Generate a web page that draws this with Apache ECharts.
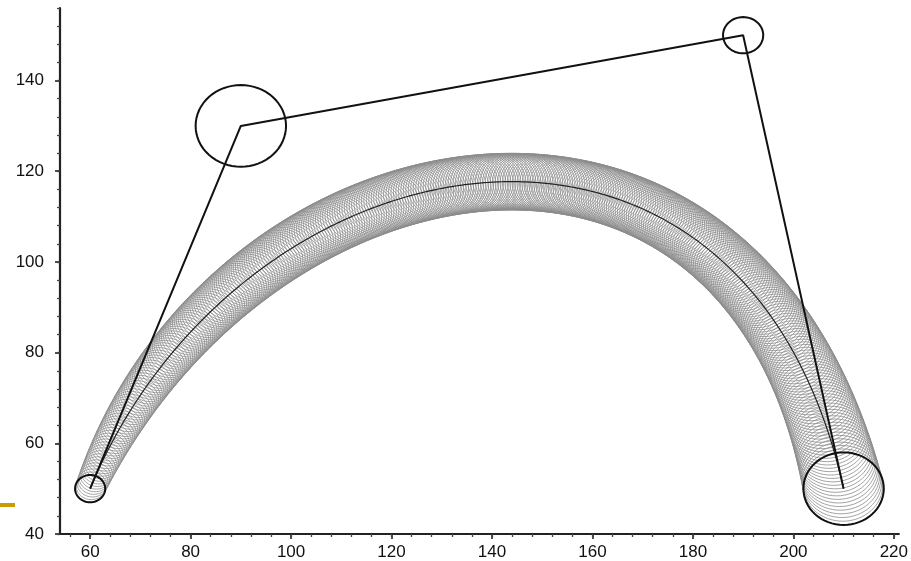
<!DOCTYPE html>
<html>
<head>
<meta charset="utf-8">
<style>
  html, body { margin: 0; padding: 0; background: #ffffff; }
  #chart { width: 911px; height: 561px; }
</style>
<script src="https://cdn.jsdelivr.net/npm/echarts@6/dist/echarts.min.js"></script>
</head>
<body>
<div id="chart"></div>
<script>
// Control disks of the Bezier curve
const ctrlX = [60, 90, 190, 210];
const ctrlY = [50, 130, 150, 50];
const ctrlR = [3, 9, 4, 8];

// Axis tick labels
const xTickLabels = [60, 80, 100, 120, 140, 160, 180, 200, 220];
const yTickLabels = [40, 60, 80, 100, 120, 140];
const xMinorTicks = [56, 60, 64, 68, 72, 76, 80, 84, 88, 92, 96, 100, 104, 108, 112, 116, 120, 124, 128, 132, 136, 140, 144, 148, 152, 156, 160, 164, 168, 172, 176, 180, 184, 188, 192, 196, 200, 204, 208, 212, 216, 220];
const yMinorTicks = [40, 44, 48, 52, 56, 60, 64, 68, 72, 76, 80, 84, 88, 92, 96, 100, 104, 108, 112, 116, 120, 124, 128, 132, 136, 140, 144, 148, 152, 156];

// number of disks drawn along the curve
const diskCount = 380;

function bez(p, t) {
  const u = 1 - t;
  return u * u * u * p[0] + 3 * u * u * t * p[1] + 3 * u * t * t * p[2] + t * t * t * p[3];
}

const tube = [];
const centerLine = [];
for (let i = 0; i < diskCount; i++) {
  const t = i / (diskCount - 1);
  const cx = bez(ctrlX, t), cy = bez(ctrlY, t), r = bez(ctrlR, t);
  tube.push([cx, cy, r]);
  centerLine.push([cx, cy]);
}
const ctrlDisks = ctrlX.map((x, i) => [x, ctrlY[i], ctrlR[i]]);
const ctrlPoly = ctrlX.map((x, i) => [x, ctrlY[i]]);

function circleRenderer(color, width) {
  return function (params, api) {
    const cx = api.value(0), cy = api.value(1), r = api.value(2);
    const pts = [];
    const n = 64;
    for (let k = 0; k < n; k++) {
      const a = (k / n) * Math.PI * 2;
      pts.push(api.coord([cx + r * Math.cos(a), cy + r * Math.sin(a)]));
    }
    return {
      type: 'polygon',
      shape: { points: pts },
      style: { fill: 'none', stroke: color, lineWidth: width }
    };
  };
}

const chart = echarts.init(document.getElementById('chart'), null, { renderer: 'canvas' });
const labelFont = { fontFamily: 'Liberation Sans, Arial, sans-serif', fontSize: 17, color: '#111' };

chart.setOption({
  animation: false,
  backgroundColor: '#ffffff',
  grid: { left: 60, right: 8, top: 8, bottom: 24, containLabel: false },
  xAxis: [
    {
      type: 'value', min: 54, max: 221,
      axisLine: { show: true, onZero: false, lineStyle: { color: '#222', width: 2.2 } },
      axisTick: { show: true, length: 5, customValues: xTickLabels, lineStyle: { color: '#222', width: 1.6 } },
      axisLabel: Object.assign({ show: true, margin: 10, customValues: xTickLabels }, labelFont),
      splitLine: { show: false }
    },
    {
      type: 'value', min: 54, max: 221, position: 'bottom',
      axisLine: { show: false, onZero: false },
      axisTick: { show: true, length: 3, customValues: xMinorTicks, lineStyle: { color: '#444', width: 1.3 } },
      axisLabel: { show: false },
      splitLine: { show: false }
    }
  ],
  yAxis: [
    {
      type: 'value', min: 40, max: 156,
      axisLine: { show: true, onZero: false, lineStyle: { color: '#222', width: 2.2 } },
      axisTick: { show: true, length: 5, customValues: yTickLabels, lineStyle: { color: '#222', width: 1.6 } },
      axisLabel: Object.assign({ show: true, margin: 16, customValues: yTickLabels }, labelFont),
      splitLine: { show: false }
    },
    {
      type: 'value', min: 40, max: 156, position: 'left',
      axisLine: { show: false, onZero: false },
      axisTick: { show: true, length: 3, customValues: yMinorTicks, lineStyle: { color: '#444', width: 1.3 } },
      axisLabel: { show: false },
      splitLine: { show: false }
    }
  ],
  graphic: [
    {
      type: 'rect', left: 0, top: 503,
      shape: { width: 15, height: 4 },
      style: { fill: '#c99c00' }
    }
  ],
  series: [
    {
      type: 'custom', name: 'tube', silent: true,
      renderItem: circleRenderer('#8c8c8c', 0.8),
      encode: { x: 0, y: 1 },
      data: tube,
      z: 2
    },
    {
      type: 'line', name: 'curve', silent: true,
      data: centerLine, showSymbol: false, symbol: 'none',
      lineStyle: { color: '#222', width: 1.2 },
      z: 3
    },
    {
      type: 'line', name: 'polygon', silent: true,
      data: ctrlPoly, showSymbol: false, symbol: 'none',
      lineStyle: { color: '#111', width: 2 },
      z: 4
    },
    {
      type: 'custom', name: 'controlDisks', silent: true,
      renderItem: circleRenderer('#111', 2),
      encode: { x: 0, y: 1 },
      data: ctrlDisks,
      z: 5
    }
  ]
});
</script>
</body>
</html>
